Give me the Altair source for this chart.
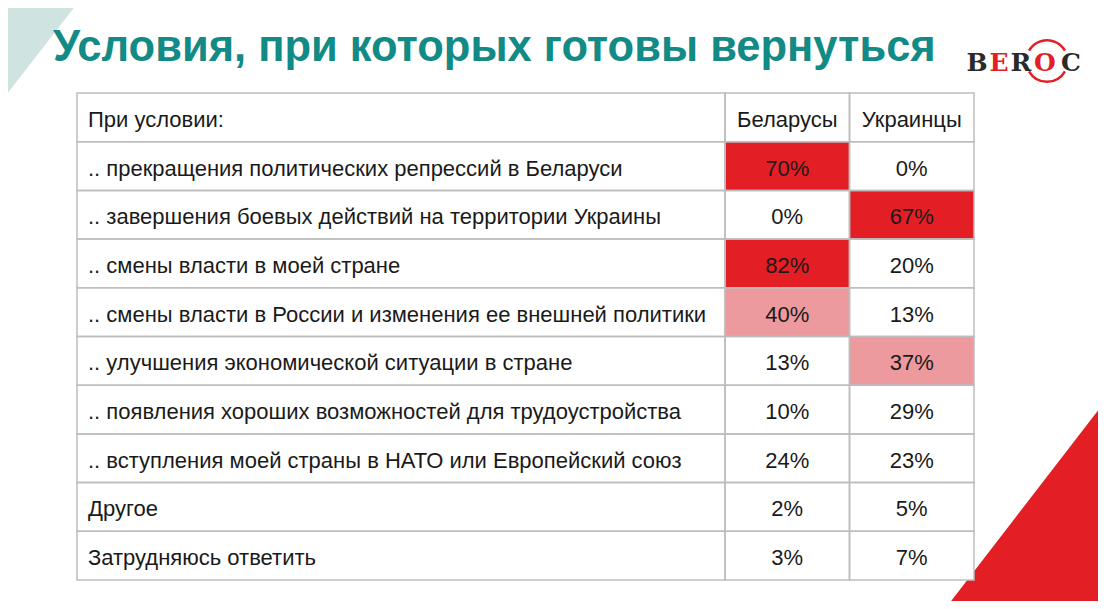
import altair as alt
import pandas as pd

# ---------------- data ----------------
title_text = "Условия, при которых готовы вернуться"
header_label = "При условии:"
groups = ["Беларусы", "Украинцы"]
conditions = [
    ".. прекращения политических репрессий в Беларуси",
    ".. завершения боевых действий на территории Украины",
    ".. смены власти в моей стране",
    ".. смены власти в России и изменения ее внешней политики",
    ".. улучшения экономической ситуации в стране",
    ".. появления хороших возможностей для трудоустройства",
    ".. вступления моей страны в НАТО или Европейский союз",
    "Другое",
    "Затрудняюсь ответить",
]
belarus = [70, 0, 82, 40, 13, 10, 24, 2, 3]
ukraine = [0, 67, 20, 13, 37, 29, 23, 5, 7]
logo_letters = ["B", "E", "R", "O", "C"]

# ---------------- tables ----------------
rows_all = [header_label] + conditions
label_df = pd.DataFrame({"row": rows_all, "col": ["q"] * len(rows_all)})
cell_df = pd.DataFrame({
    "row": conditions + conditions,
    "group": [groups[0]] * len(conditions) + [groups[1]] * len(conditions),
    "value": belarus + ukraine,
})
head_df = pd.DataFrame({"row": [header_label] * len(groups), "group": groups})
grid_df = pd.DataFrame([{"row": r, "group": g} for r in rows_all for g in groups])

# ---------------- styles ----------------
FONT = "Liberation Sans"
FS = 22
DY = 2.5
TXT = "#1a1a1a"
GRID = "#bdbdbd"
RED = "#e31e24"
PINK = "#ec9a9d"
TEAL = "#128a85"
TEAL_LIGHT = "#cfe4e0"

y_scale = alt.Scale(domain=rows_all, range=[85, 572], paddingInner=0, paddingOuter=0)
xl_scale = alt.Scale(domain=["q"], range=[69, 717], paddingInner=0, paddingOuter=0)
xg_scale = alt.Scale(domain=groups, range=[717, 966], paddingInner=0, paddingOuter=0)

Y = alt.Y("row:N", scale=y_scale, axis=None)
XL = alt.X("col:N", scale=xl_scale, axis=None)
XG = alt.X("group:N", scale=xg_scale, axis=None)

layers = []

# decorative corner triangles
one = alt.Data(values=[{}])
layers.append(
    alt.Chart(one).mark_point(
        shape="M-1,-1L0.553,-1L-1,1Z", size=10609, filled=True,
        color=TEAL_LIGHT, opacity=1, strokeWidth=0
    ).encode(x=alt.value(43.5), y=alt.value(43.5))
)
layers.append(
    alt.Chart(one).mark_point(
        shape="M1,1L1,-1L-0.541,1Z", size=43681, filled=True,
        color=RED, opacity=1, strokeWidth=0
    ).encode(x=alt.value(993.5), y=alt.value(496.5))
)

# title
layers.append(
    alt.Chart(one).mark_text(
        text=title_text, font=FONT, fontSize=43.5, fontWeight="bold",
        color=TEAL, align="left", baseline="alphabetic"
    ).encode(x=alt.value(45), y=alt.value(53))
)

# logo
logo_x = [969, 991, 1013, 1037, 1063]
logo_c = ["#2a2a2a", RED, "#2a2a2a", RED, "#2a2a2a"]
for letter, lx, lc in zip(logo_letters, logo_x, logo_c):
    layers.append(
        alt.Chart(one).mark_text(
            text=letter, font="DejaVu Serif", fontSize=25, fontWeight="bold",
            color=lc, align="center", baseline="alphabetic"
        ).encode(x=alt.value(lx), y=alt.value(63))
    )
for t1, t2 in [(5.236, 7.330), (2.094, 4.189)]:
    layers.append(
        alt.Chart(one).mark_arc(
            radius=22, radius2=19.5, theta=t1, theta2=t2, color=RED
        ).encode(x=alt.value(1039), y=alt.value(53))
    )

# table: label column background
layers.append(
    alt.Chart(label_df).mark_rect(color="white", strokeWidth=0).encode(x=XL, y=Y)
)
# header cells background
layers.append(
    alt.Chart(head_df).mark_rect(color="white", strokeWidth=0).encode(x=XG, y=Y)
)
# heat cells
layers.append(
    alt.Chart(cell_df).mark_rect(strokeWidth=0).encode(
        x=XG, y=Y,
        color=alt.Color(
            "value:Q",
            scale=alt.Scale(type="threshold", domain=[35, 50],
                            range=["#ffffff", PINK, RED]),
            legend=None,
        ),
    )
)
# grid lines
layers.append(
    alt.Chart(label_df).mark_rect(fillOpacity=0, stroke=GRID, strokeWidth=1.5)
    .encode(x=XL, y=Y)
)
layers.append(
    alt.Chart(grid_df).mark_rect(fillOpacity=0, stroke=GRID, strokeWidth=1.5)
    .encode(x=XG, y=Y)
)
# label text (left-aligned inside the first column)
layers.append(
    alt.Chart(label_df).mark_text(
        align="left", baseline="middle", font=FONT, fontSize=FS, color=TXT, dy=DY
    ).encode(x=alt.value(80), y=Y, text="row:N")
)
# header text
layers.append(
    alt.Chart(head_df).mark_text(
        align="center", baseline="middle", font=FONT, fontSize=FS, color=TXT, dy=DY
    ).encode(x=XG, y=Y, text="group:N")
)
# value text
layers.append(
    alt.Chart(cell_df).transform_calculate(label="datum.value + '%'").mark_text(
        align="center", baseline="middle", font=FONT, fontSize=FS, color=TXT, dy=DY
    ).encode(x=XG, y=Y, text="label:N")
)

chart = (
    alt.layer(*layers)
    .resolve_scale(x="independent")
    .properties(width=1090, height=593, padding=0,
                autosize=alt.AutoSizeParams(type="none"))
    .configure_view(strokeWidth=0)
)

chart.save("out.html", embed_options={"renderer": "svg", "actions": False})
